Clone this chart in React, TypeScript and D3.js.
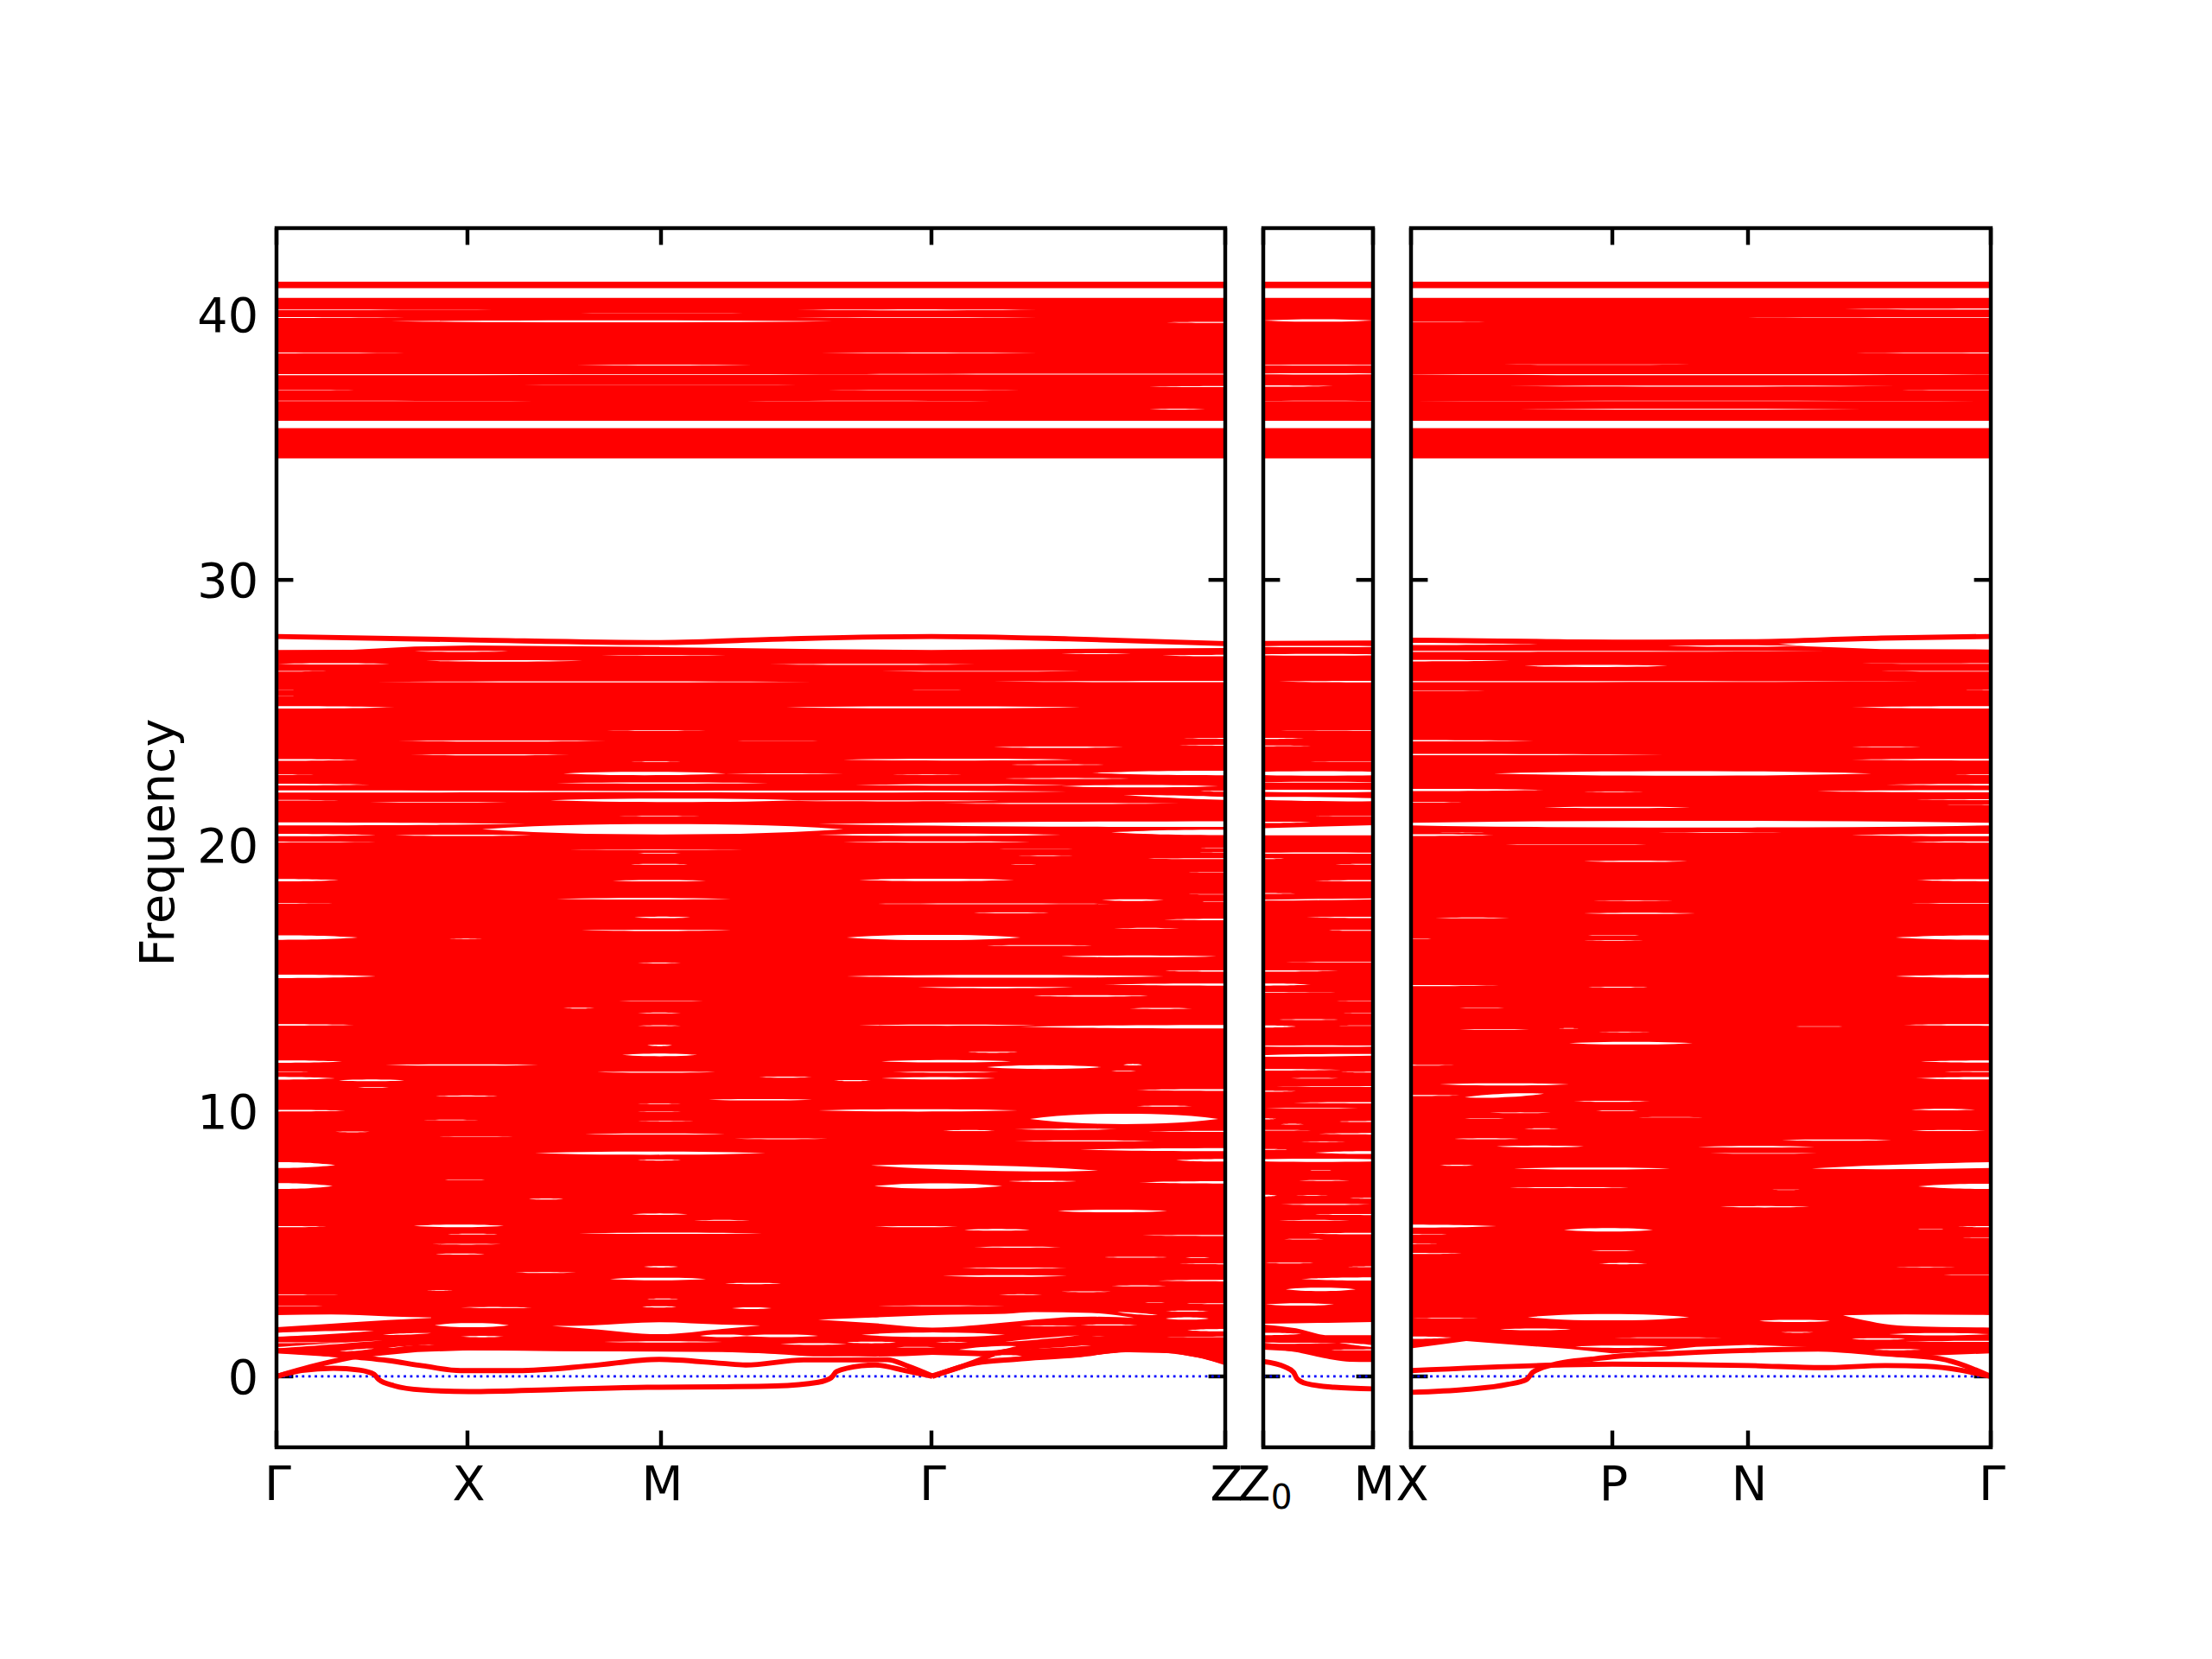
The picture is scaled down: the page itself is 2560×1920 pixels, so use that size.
import React from "react";
import * as d3 from "d3";

type Gap = number[]; // [kStart, kEnd, freq, gapWidth, optional freqEnd]
type Pt = number[];  // [k, freq]

const yTickValues = [0, 10, 20, 30, 40];
const frequencyLimits = [-2.67, 43.25];

const leftTicks = [[0, "Γ"], [2.21, "X"], [4.45, "M"], [7.58, "Γ"], [10.98, "Z"]];
const midTicks = [[0, "Z0"], [1.27, "M"]];
const rightTicks = [[0, "X"], [2.33, "P"], [3.9, "N"], [6.71, "Γ"]];

const upperBands = [[34.58, 35.72], [35.99, 40.62], [40.99, 41.23]];

/* ---------- left panel: Γ X M Γ Z ---------- */
const leftOuterTop: Pt[] = [[0, 27.36], [0.88, 27.37], [1.6, 27.49], [2.25, 27.53], [4.45, 27.47], [6.29, 27.39], [7.58, 27.36], [9.17, 27.4], [10.98, 27.43]];
const leftOuterBottom: Pt[] = [[0, 0.87], [0.79, 0.71], [0.96, 0.71], [1.29, 0.81], [1.63, 0.92], [2.23, 0.98], [3.29, 0.97], [5.16, 0.94], [5.77, 0.86], [6.27, 0.78], [6.93, 0.75], [7.27, 0.76], [7.59, 0.81], [8.26, 0.75], [8.63, 0.65], [9.27, 0.73], [9.77, 0.92], [10.3, 0.88], [10.41, 0.86], [10.73, 0.67], [10.98, 0.45]];
const leftTopLine: Pt[] = [[0, 27.87], [2.25, 27.74], [4.45, 27.64], [5.91, 27.78], [7.58, 27.87], [9.17, 27.78], [10.98, 27.6]];
const leftSoftMode: Pt[] = [[0, 0], [0.29, 0.22], [0.66, 0.31], [0.96, 0.24], [1.13, 0.08], [1.18, -0.11], [1.36, -0.35], [1.69, -0.51], [2.23, -0.57], [3.29, -0.49], [4.29, -0.41], [5.16, -0.39], [5.77, -0.36], [6.27, -0.22], [6.42, -0.05], [6.48, 0.18], [6.77, 0.4], [6.93, 0.43], [7.27, 0.22], [7.59, 0]];
const leftBandB: Pt[] = [[0, 0], [0.39, 0.36], [0.86, 0.71], [1.29, 0.94], [1.63, 1.08], [2.23, 1.08], [3.29, 1.05], [5.16, 1.01], [5.77, 0.94], [6.27, 0.85], [6.93, 0.89], [7.59, 0.94], [8.27, 0.86], [8.63, 1.08], [9.27, 1.25], [9.83, 1.52], [10.3, 1.46]];
const leftBandC: Pt[] = [[0, 0.97], [0.46, 0.89], [0.89, 0.74], [1.29, 0.6], [1.69, 0.4], [2.13, 0.22], [2.79, 0.22], [3.63, 0.4], [4.43, 0.64], [5.16, 0.49], [5.43, 0.43], [6.1, 0.62], [6.6, 0.62], [7.07, 0.63], [7.3, 0.4], [7.59, 0.02]];
const leftBandD: Pt[] = [[7.59, 0], [8.1, 0.51], [8.57, 0.65], [9.27, 0.81], [9.77, 1.0], [10.1, 1.03], [10.41, 0.94], [10.73, 0.76], [10.98, 0.52]];
const leftBandE: Pt[] = [[7.59, 0.02], [8.0, 0.45], [8.3, 0.85]];

const leftWhiteWedge = { k: [0, 0.63, 1.29, 1.79], top: [2.31, 2.33, 2.26, 2.22], bottom: [1.85, 1.98, 2.12, 2.2] };
const leftWhiteAtM = { k: [3.19, 3.63, 4.43, 5.16, 5.6], top: [1.9, 1.92, 2.04, 1.95, 1.92], bottom: [1.9, 1.79, 1.59, 1.79, 1.92] };
const leftWhiteAtGamma = { k: [6.27, 6.9, 7.59, 8.43, 8.77, 9.43, 9.93], top: [2.14, 2.22, 2.31, 2.36, 2.42, 2.39, 2.2], bottom: [2.14, 2.01, 1.84, 2.03, 2.14, 2.25, 2.2] };

const leftUpperGaps: Gap[] = [
  [0, 2.5, 40.17, 0.02], [6.02, 8.8, 40.17, 0.035], [3.52, 5.4, 40.04, 0.012], [0, 1.48, 39.88, 0.03], [6, 8.8, 39.88, 0.025],
  [1.33, 6.43, 39.74, 0.07], [10.3, 10.98, 39.7, 0.045], [0, 1.48, 38.55, 0.03], [6.3, 8.8, 38.55, 0.03], [3.47, 5.5, 38.09, 0.03],
  [0, 8, 37.73, 0.035], [6.5, 10.98, 37.75, 0.04], [0, 0.97, 37.15, 0.02], [6.38, 8.6, 37.15, 0.02], [2.86, 6.02, 37.34, 0.012],
  [10.1, 10.98, 37.28, 0.04], [0, 3.78, 36.74, 0.012], [5.2, 8.5, 36.74, 0.012], [10.1, 10.75, 36.43, 0.03],
];
const leftGapsHigh: Gap[] = [
  [1.6, 2.68, 27.31, 0.04], [1.73, 3.54, 26.95, 0.055], [0.02, 1.31, 26.84, 0.05], [3.76, 5.2, 27.15, 0.025], [5.7, 8.09, 26.82, 0.04],
  [9.08, 9.89, 27.22, 0.03], [10.25, 10.98, 27.15, 0.055], [0, 0.58, 26.56, 0.025], [7, 9.3, 26.56, 0.03], [1.15, 6.2, 26.16, 0.04],
  [8.3, 10.98, 26.17, 0.05], [0, 0.22, 25.85, 0.012], [0, 0.22, 25.63, 0.012], [7.35, 7.93, 25.85, 0.012], [0, 1.37, 25.2, 0.09],
  [5.9, 9.3, 25.2, 0.08], [3.82, 4.97, 24.33, 0.02], [10.5, 10.98, 24.03, 0.03], [10.45, 10.98, 23.77, 0.03], [1.4, 3.82, 23.93, 0.04],
  [8.3, 9.8, 23.7, 0.05], [5.33, 6.27, 23.94, 0.012], [1.55, 3.39, 23.41, 0.04], [0, 0.94, 23.22, 0.065], [6.56, 9.22, 23.23, 0.065],
  [4.1, 4.68, 23.15, 0.02], [8.5, 9.58, 23.04, 0.03], [3.32, 5.2, 22.71, 0.13], [5.2, 6.56, 22.7, 0.03], [9.44, 10.98, 22.73, 0.17],
  [7.13, 7.93, 22.66, 0.02], [0, 0.43, 22.67, 0.02], [3.24, 5.69, 22.35, 0.05], [8.43, 9.87, 22.52, 0.04], [0, 1.08, 22.29, 0.065],
  [6.7, 9.15, 22.28, 0.055], [9.08, 10.9, 22.23, 0.09], [0, 5, 22.03, 0.08], [3.5, 9.15, 22.03, 0.075], [10.67, 10.98, 22.04, 0.03],
  [0, 0.72, 21.7, 0.025], [1.08, 2.67, 21.62, 0.03], [3.17, 6.05, 21.7, 0.13], [5.9, 8.36, 21.68, 0.04], [7.71, 10.45, 21.58, 0.04],
  [9.8, 10.98, 21.9, 0.12, 21.77], [3.96, 4.9, 21.1, 0.02], [0, 2.88, 20.81, 0.11], [2.38, 6.56, 20.61, 0.39], [6.27, 10.98, 20.8, 0.21],
  [9.66, 10.98, 20.49, 0.2], [0, 1.15, 20.39, 0.09], [1.37, 2.95, 20.38, 0.05], [6.27, 9.08, 20.4, 0.09], [0, 1.15, 20.13, 0.03],
  [6.56, 8.72, 20.13, 0.05], [3.39, 5.4, 19.84, 0.02], [4.18, 4.68, 19.7, 0.03], [8.36, 9.22, 19.87, 0.012], [10.67, 10.98, 19.89, 0.02],
  [8.58, 9.22, 19.61, 0.02], [10.02, 10.98, 19.5, 0.035], [10.6, 10.98, 19.73, 0.012], [4.1, 4.76, 19.29, 0.035], [8.43, 8.86, 19.29, 0.012],
  [10.52, 10.98, 18.99, 0.02], [0, 0.72, 18.69, 0.09], [3.89, 4.97, 18.67, 0.055], [6.74, 8.54, 18.7, 0.09], [3.24, 5.26, 17.99, 0.055],
  [9.55, 10.27, 17.94, 0.065], [10.52, 10.98, 18.16, 0.02], [10.67, 10.98, 17.89, 0.02], [0, 0.65, 17.82, 0.02], [6.85, 9.66, 17.8, 0.03],
  [8.07, 8.94, 17.46, 0.035], [4.14, 4.79, 17.29, 0.055], [10.27, 10.98, 17.21, 0.055], [3.53, 5.26, 16.8, 0.045], [9.69, 10.45, 16.88, 0.03],
  [0, 0.94, 16.53, 0.17], [2, 2.38, 16.48, 0.02], [6.6, 8.61, 16.53, 0.2], [8.22, 9.44, 16.23, 0.035],
];
const leftGapsMiddle: Gap[] = [
  [9.08, 10.88, 15.82, 0.065], [4.18, 4.68, 15.57, 0.03], [0, 1.15, 15.07, 0.13], [6.6, 10.27, 15.07, 0.11], [10.23, 10.98, 15.27, 0.045],
  [9.58, 10.98, 14.76, 0.08], [7.42, 9.22, 14.65, 0.055], [8.76, 10.09, 14.33, 0.055], [3.96, 4.94, 14.13, 0.02], [3.32, 3.68, 13.87, 0.03],
  [9.87, 10.6, 13.86, 0.04], [4.18, 4.68, 13.69, 0.03], [0, 0.9, 13.24, 0.055], [6.74, 8.79, 13.23, 0.045], [8.6, 10.98, 13.17, 0.13],
  [4.18, 4.68, 13.21, 0.03], [4.29, 4.58, 12.47, 0.055], [4, 4.87, 12.11, 0.1], [8, 8.58, 12.21, 0.04], [0, 0.76, 11.86, 0.09],
  [7, 8.5, 11.87, 0.09], [8.22, 9.55, 11.65, 0.14], [9.8, 10.02, 11.74, 0.055], [1.26, 3.03, 11.73, 0.055], [0, 0.4, 11.48, 0.02],
  [3.71, 5.08, 11.46, 0.045], [7.13, 8.36, 11.46, 0.04], [9.66, 9.95, 11.5, 0.03], [0, 0.68, 11.23, 0.1], [7, 8.32, 11.23, 0.085],
  [0.72, 1.48, 11.15, 0.065], [5.58, 6.2, 11.27, 0.04], [6.45, 6.88, 11.14, 0.04], [0.94, 1.3, 10.88, 0.03], [1.84, 2.56, 10.56, 0.04],
  [9.95, 10.98, 10.79, 0.065], [5, 6.2, 10.42, 0.055], [0, 0.8, 10.01, 0.065], [6.27, 8.58, 10.02, 0.085], [4.18, 4.68, 10.27, 0.02],
  [4.18, 4.68, 9.98, 0.02], [4.18, 4.83, 9.61, 0.02], [1.7, 2.34, 9.66, 0.02], [8.72, 10.9, 9.7, 0.39], [9.95, 10.6, 10.18, 0.04],
  [0.68, 1.08, 9.21, 0.03], [3.57, 5.19, 9.13, 0.045], [7.71, 8.32, 9.26, 0.04], [8.54, 9.73, 9.31, 0.05], [10.09, 10.98, 9.23, 0.04],
  [1.87, 2.74, 9.02, 0.02], [5.3, 6.38, 8.95, 0.03], [8.54, 10.16, 8.87, 0.04], [2.99, 5.66, 8.41, 0.12], [4.18, 4.68, 8.15, 0.04],
  [9.3, 10.98, 8.54, 0.11], [0, 0.68, 7.96, 0.22], [6.88, 9.51, 7.95, 0.2, 7.75], [10.41, 10.98, 8.14, 0.1], [0, 0.65, 7.17, 0.22],
  [6.92, 8.4, 7.17, 0.2], [8.47, 9.26, 7.35, 0.055], [9.98, 10.98, 7.31, 0.085], [1.91, 2.45, 7.41, 0.02], [2.92, 3.32, 6.68, 0.04],
  [4.11, 4.76, 6.11, 0.055], [9.04, 10.31, 6.23, 0.1], [4.83, 5.48, 5.88, 0.03], [1.59, 2.63, 5.67, 0.1], [0, 0.58, 5.64, 0.045],
  [6.92, 7.89, 5.64, 0.045], [7.96, 8.72, 5.52, 0.065], [3.5, 5.62, 5.39, 0.05], [1.98, 2.56, 5.36, 0.03], [10.02, 10.98, 5.31, 0.04],
  [1.8, 2.6, 4.98, 0.03], [1.84, 2.41, 4.61, 0.04], [8.07, 9.08, 4.87, 0.04], [4.25, 4.65, 4.13, 0.055], [7.93, 9.15, 4.08, 0.04],
  [9.58, 10.31, 4.49, 0.04], [10.52, 10.8, 4.47, 0.03], [10.45, 10.98, 4.24, 0.03], [3.86, 4.97, 3.67, 0.1], [7.71, 9.15, 3.78, 0.065],
  [2.81, 3.32, 3.92, 0.02], [10.2, 10.98, 3.61, 0.055], [5.19, 5.84, 3.5, 0.05], [9.66, 10.3, 3.41, 0.04], [8.36, 8.86, 3.08, 0.03],
  [9.08, 9.66, 3.19, 0.03], [2.76, 3.47, 3.91, 0.03], [0, 0.72, 3.07, 0.02], [4.29, 4.65, 2.92, 0.03], [1.74, 2.04, 3.24, 0.02],
];
const leftGapsLow: Gap[] = [
  [1.83, 2.69, 1.93, 0.16], [0, 1.13, 1.57, 0.15, 1.72], [1.23, 1.79, 1.57, 0.05, 1.63], [0, 0.8, 1.27, 0.03], [0, 1.23, 1.08, 0.05, 1.36],
  [1.29, 1.83, 1.08, 0.04, 1.19], [0.73, 1.13, 0.94, 0.05, 1.05], [2.13, 2.63, 1.5, 0.05], [3.79, 5.16, 1.3, 0.045], [4.9, 5.45, 1.53, 0.1],
  [5.4, 6.27, 1.53, 0.1], [5.83, 6.6, 1.22, 0.065], [6.6, 7.17, 1.28, 0.065], [6.77, 8.43, 1.57, 0.17], [7.17, 7.63, 1.1, 0.03],
  [7.63, 8, 1.29, 0.03], [7.8, 8.63, 0.95, 0.15, 1.13], [8.27, 8.63, 0.76, 0.09], [8.63, 9.43, 1.03, 0.04, 1.17], [8.43, 9.3, 1.3, 0.045, 1.55],
  [8.6, 9.27, 1.9, 0.03], [9.3, 9.97, 1.94, 0.04], [9.73, 10.2, 2.42, 0.055, 2.31], [9.43, 10.3, 1.5, 0.02], [10.03, 10.3, 2.79, 0.015],
  [10.29, 10.79, 2.46, 0.04], [10.29, 10.79, 2.18, 0.09], [10.54, 10.98, 1.74, 0.09], [10.5, 10.98, 2.74, 0.03], [10.3, 10.98, 1.49, 0.02],
  [2.13, 2.89, 2.6, 0.03], [4.23, 4.63, 2.62, 0.05], [0, 0.63, 2.66, 0.02], [5.27, 5.73, 2.57, 0.065], [6.93, 8.43, 2.66, 0.03],
  [2.25, 2.96, 2.59, 0.03],
];

/* ---------- middle panel: Z0 M ---------- */
const midOuterTop: Pt[] = [[0, 27.7], [1.27, 27.72]];
const midOuterBottom: Pt[] = [[0, 1.01], [0.38, 0.94], [0.75, 0.76], [1, 0.65], [1.27, 0.56]];
const midSoftMode: Pt[] = [[0, 0.56], [0.25, 0.36], [0.35, 0.16], [0.39, -0.08], [0.5, -0.27], [0.82, -0.41], [1.27, -0.47]];
const midLowBand: Pt[] = [[0, 1.17], [0.38, 1.01], [0.75, 0.76], [1, 0.65], [1.27, 0.64]];
const midWhiteWedge = { k: [0, 0.38, 0.75, 1.27], top: [1.98, 2.0, 2.02, 2.05], bottom: [1.95, 1.81, 1.55, 1.55] };
const midUpperGaps: Gap[] = [
  [0, 1.27, 39.77, 0.09], [-0.4, 1.7, 38.09, 0.03], [-0.4, 1.7, 37.76, 0.05], [0, 0.81, 37.3, 0.05], [-0.4, 1.7, 36.74, 0.012],
];
const midGapsHigh: Gap[] = [
  [-0.4, 1.7, 27.49, 0.05], [-0.3, 1.6, 27.18, 0.065], [0.18, 1.27, 26.17, 0.055], [0.2, 1.27, 24.32, 0.02], [0, 0.47, 24.03, 0.04],
  [0, 0.55, 23.75, 0.03], [0.49, 1.27, 23.16, 0.02], [-0.5, 1.8, 22.71, 0.17], [-0.4, 1.7, 22.38, 0.03], [-0.5, 1.8, 22.05, 0.1],
  [-0.5, 1.8, 21.79, 0.15, 21.7], [0.55, 1.27, 21.11, 0.02], [0, 0.55, 20.87, 0.05], [-0.4, 1.7, 19.71, 0.05], [0, 0.26, 19.5, 0.03],
  [0.8, 1.27, 19.29, 0.03], [0.6, 1.27, 18.67, 0.05], [0, 0.4, 18.19, 0.03], [-0.4, 1.7, 17.92, 0.05, 18], [0.5, 1.27, 17.29, 0.05],
  [0.72, 1.27, 16.8, 0.04], [0.26, 1.27, 15.6, 0.03], [0, 0.87, 15.27, 0.05], [0, 0.55, 14.76, 0.08], [0, 0.84, 14.47, 0.02],
  [0.78, 1.27, 14.14, 0.015], [0.9, 1.27, 13.69, 0.02], [0.18, 0.87, 13.44, 0.03], [0, 0.38, 13.18, 0.08], [0.84, 1.27, 13.21, 0.02],
  [-0.4, 1.7, 12.44, 0.055], [-0.4, 1.7, 12.06, 0.09, 12.13], [0, 0.9, 11.55, 0.06], [0.9, 1.27, 11.46, 0.03], [0.32, 0.87, 11.23, 0.03],
  [0.15, 1.27, 10.92, 0.03], [0, 0.38, 10.74, 0.04], [0.35, 1.27, 10.31, 0.05], [0.03, 1.1, 10.1, 0.03], [0, 0.15, 9.7, 0.04],
  [0.85, 1.27, 9.6, 0.04], [0.2, 0.47, 9.5, 0.03], [0, 0.55, 9.27, 0.03], [0.64, 1.27, 9.14, 0.05], [0.44, 0.95, 8.84, 0.02],
  [0, 0.3, 8.55, 0.03], [0.6, 1.27, 8.43, 0.11], [-0.4, 1.7, 8.14, 0.12], [0.52, 0.81, 7.76, 0.02], [0.41, 1, 7.38, 0.03],
  [0, 0.16, 6.81, 0.065], [0.38, 0.75, 6.82, 0.02], [0.98, 1.27, 6.71, 0.03], [0.2, 1.24, 6.48, 0.04], [0.55, 1.27, 6.1, 0.04],
  [0.18, 1, 5.88, 0.03], [0.52, 1.27, 5.38, 0.06], [0.24, 0.7, 5.17, 0.03], [0.03, 0.58, 4.27, 0.03], [0.98, 1.27, 4.13, 0.03],
  [0.44, 1.27, 3.67, 0.12], [0.26, 1.07, 3.28, 0.13], [0.03, 0.82, 2.71, 0.09], [0, 0.44, 1.6, 0.09], [0, 0.85, 1.25, 0.045],
  [0.88, 1.27, 1.27, 0.08, 1.14], [0.75, 1.27, 1.0, 0.04],
];
const midWhiteAt20 = { k: [0, 1.27], top: [20.65, 20.76], bottom: [20.38, 20.38] };

/* ---------- right panel: X P N Γ ---------- */
const rightOuterTop: Pt[] = [[0, 27.81], [2.33, 27.74], [3.9, 27.7], [4.58, 27.5], [5.44, 27.39], [6.71, 27.38]];
const rightOuterBottom: Pt[] = [[0, 1.06], [0.64, 1.33], [1.27, 1.17], [1.85, 1.03], [2.33, 0.87], [2.82, 0.95], [3.3, 1.11], [3.9, 1.19], [4.52, 1.11], [5, 1.06], [5.49, 0.92], [5.97, 0.78], [6.71, 0.87]];
const rightTopLine: Pt[] = [[0, 27.73], [1.42, 27.68], [2.33, 27.65], [3.9, 27.67], [5.44, 27.81], [6.71, 27.87]];
const rightSoftMode: Pt[] = [[0, -0.6], [0.64, -0.49], [1.12, -0.3], [1.34, -0.11], [1.41, 0.16], [1.71, 0.49], [2.09, 0.65], [2.33, 0.74], [3.06, 0.87], [3.9, 0.98], [4.71, 1.03], [5.49, 0.85], [6.12, 0.67], [6.71, 0]];
const rightAcoustic: Pt[] = [[0, 0.22], [1.71, 0.43], [2.33, 0.46], [3.9, 0.41], [4.76, 0.33], [5.49, 0.41], [5.97, 0.38], [6.71, 0]];
const rightWhiteWedge = { k: [5, 5.72, 6.71], top: [2.3, 2.33, 2.31], bottom: [2.3, 1.9, 1.84] };
const rightUpperGaps: Gap[] = [
  [5.02, 6.71, 40.2, 0.04], [3.68, 6.71, 39.88, 0.025], [0, 1, 39.72, 0.015], [5.15, 6.71, 38.55, 0.03], [1.07, 3.23, 38.11, 0.02],
  [-0.5, 7.2, 37.73, 0.04], [1.13, 5.6, 37.3, 0.04], [5.6, 6.71, 37.15, 0.02], [-0.5, 7.2, 36.74, 0.012], [1.26, 5.21, 36.43, 0.035],
];
const rightGapsHigh: Gap[] = [
  [0, 1.48, 27.59, 0.085], [2.97, 4.58, 27.51, 0.055], [0, 4.8, 27.31, 0.04], [0, 1.14, 26.96, 0.055], [1.31, 2.97, 26.76, 0.08],
  [5.1, 6.71, 26.85, 0.02], [5.44, 6.71, 26.56, 0.03], [0, 5.9, 26.17, 0.04], [0, 1.2, 25.83, 0.012], [6.42, 6.71, 25.85, 0.015],
  [5.1, 6.71, 25.2, 0.09], [0, 1.42, 23.94, 0.05], [5.1, 5.9, 23.71, 0.025], [0, 2.92, 23.42, 0.05], [5.1, 6.71, 23.23, 0.065],
  [0.96, 5.33, 22.71, 0.17], [6.3, 6.71, 22.67, 0.025], [5.5, 6.71, 22.29, 0.055], [0, 1.54, 22.09, 0.085], [4.7, 6.71, 22.04, 0.085],
  [2, 2.69, 22.01, 0.02], [0, 0.59, 21.62, 0.03], [1.54, 3.23, 21.43, 0.055], [5.85, 6.71, 21.72, 0.03], [6.2, 6.71, 21.53, 0.015],
  [-0.8, 7.5, 20.8, 0.25], [0, 0.96, 20.39, 0.065], [5.1, 6.71, 20.39, 0.09], [5.78, 6.71, 20.13, 0.05], [0.96, 2.86, 20.03, 0.02],
  [0.33, 0.85, 20.49, 0.015], [2.86, 4.29, 20.49, 0.02], [2, 3.2, 19.4, 0.05], [5.85, 6.71, 18.69, 0.08], [2.11, 3.03, 17.92, 0.02],
  [2, 3.29, 17.44, 0.05], [0.28, 1.14, 17.27, 0.03], [5.79, 6.71, 17.82, 0.03], [2, 2.69, 16.62, 0.02], [2, 2.69, 16.42, 0.02],
  [5.61, 6.71, 16.53, 0.17], [0, 0.3, 16.49, 0.015],
];
const rightGapsLow: Gap[] = [
  [5.61, 6.71, 15.07, 0.12], [0, 1.02, 14.72, 0.04], [2.05, 2.74, 14.66, 0.03], [0.56, 1.08, 13.88, 0.02], [5.7, 6.71, 13.24, 0.065],
  [0.56, 1.37, 13.07, 0.03], [4.41, 5.04, 13.18, 0.02], [1.71, 1.94, 13.11, 0.02], [2.17, 2.77, 12.97, 0.02], [1.83, 3.26, 12.55, 0.1],
  [0, 0.5, 11.72, 0.03], [5.9, 6.71, 11.86, 0.08], [6.13, 6.71, 11.48, 0.03], [5.84, 6.71, 11.23, 0.09], [0.33, 1.83, 11, 0.085],
  [0.62, 1.54, 10.51, 0.13, 10.65], [0, 0.56, 10.58, 0.04], [1.88, 2.77, 10.36, 0.04], [2.14, 2.63, 10.01, 0.03], [0.91, 1.62, 9.93, 0.03],
  [5.79, 6.53, 10.05, 0.055], [0.62, 1.08, 9.72, 0.02], [2.63, 3.38, 9.76, 0.02], [1.31, 1.71, 9.33, 0.03], [5.79, 6.65, 9.26, 0.04],
  [0.5, 1.25, 8.95, 0.04], [4.29, 5.56, 8.9, 0.055], [0.99, 2, 8.66, 0.065], [3.32, 4.67, 8.65, 0.055], [3.46, 4.7, 8.4, 0.03],
  [4.64, 6.71, 7.83, 0.22, 7.96], [1.19, 3, 7.83, 0.08], [0.33, 0.73, 7.95, 0.04], [1.14, 2.52, 7.11, 0.04], [5.87, 6.71, 7.16, 0.2],
  [4.18, 4.5, 7.03, 0.02], [3.58, 4.61, 6.39, 0.05], [0, 0.99, 5.66, 0.11], [1.77, 2.8, 5.52, 0.13], [6.33, 6.71, 5.64, 0.04],
  [0, 0.45, 5.36, 0.025], [6.36, 6.71, 5.22, 0.02], [5.84, 6.19, 5.54, 0.02], [0, 0.33, 5, 0.02], [0, 0.59, 4.63, 0.04],
  [2.08, 2.6, 4.73, 0.03], [2.17, 2.74, 4.25, 0.05], [5.61, 6.3, 4.11, 0.02], [6.07, 6.71, 3.83, 0.02],
  [1.35, 3.22, 2.23, 0.24], [4.03, 4.85, 2.09, 0.085], [1.03, 1.85, 1.77, 0.065], [0.02, 0.78, 2.2, 0.02], [0, 0.47, 1.46, 0.09],
  [1.9, 2.97, 1.12, 0.09], [2.35, 3.6, 1.46, 0.025], [5.1, 5.72, 1.41, 0.06], [4.28, 4.66, 1.66, 0.03], [5.35, 5.9, 1.01, 0.05],
  [5.53, 6.69, 1.59, 0.09], [5.72, 6.71, 1.32, 0.04],
];

/* ---------- drawing ---------- */
const spineTop = 264, spineBottom = 1675;
const y = d3.scaleLinear().domain(frequencyLimits).range([spineBottom, spineTop]);
const RED = "#ff0000";

const lineWidth = 5.9;
const axisWidth = 4.44;
const tickLength = 19.4;
const fontSize = 55.56;

function gapPath(g: Gap, xs: d3.ScaleLinear<number, number>, kMax: number): string {
  const [k0, k1, f0, w, f1 = f0] = g;
  const area = d3.area<number>()
    .x((t) => xs(k0 + (k1 - k0) * t))
    .y0((t) => y(f0 + (f1 - f0) * t - halfWidth(t)))
    .y1((t) => y(f0 + (f1 - f0) * t + halfWidth(t)));
  function halfWidth(t: number) {
    const fromLeft = k0 <= 0 && k1 < kMax;
    const fromRight = k1 >= kMax && k0 > 0;
    const shape = fromLeft ? 1 - Math.pow(t, 2.4) : fromRight ? 1 - Math.pow(1 - t, 2.4) : 1 - Math.pow(Math.abs(2 * t - 1), 2.4);
    return (w / 2) * shape;
  }
  return area(d3.range(0, 1.0001, 1 / 14)) || "";
}

function Panel({ id, left, right, kMax, ticks, lines, outerTop, outerBottom, gaps, whiteAreas }: any) {
  const xs = d3.scaleLinear().domain([0, kMax]).range([left, right]);
  const curve = d3.line<Pt>().x((d) => xs(d[0])).y((d) => y(d[1])).curve(d3.curveMonotoneX);
  const poly = d3.line<Pt>().x((d) => xs(d[0])).y((d) => y(d[1]));
  const outer = poly([...outerTop, ...[...outerBottom].reverse()]) + "Z";
  const wArea = (a: any) =>
    d3.area<number>().x((i) => xs(a.k[i])).y0((i) => y(a.bottom[i])).y1((i) => y(a.top[i])).curve(d3.curveMonotoneX)(a.k.map((_: number, i: number) => i)) || "";
  return (
    <g>
      <clipPath id={id}><rect x={left} y={spineTop} width={right - left} height={spineBottom - spineTop} /></clipPath>
      {/* ticks under the bands */}
      {ticks.map(([k]: any, i: number) => (
        <g key={i} stroke="#000" strokeWidth={axisWidth}>
          <line x1={xs(k)} x2={xs(k)} y1={spineBottom} y2={spineBottom - tickLength} />
          <line x1={xs(k)} x2={xs(k)} y1={spineTop} y2={spineTop + tickLength} />
        </g>
      ))}
      {yTickValues.map((v) => (
        <g key={v} stroke="#000" strokeWidth={axisWidth}>
          <line x1={left} x2={left + tickLength} y1={y(v)} y2={y(v)} />
          <line x1={right} x2={right - tickLength} y1={y(v)} y2={y(v)} />
        </g>
      ))}
      <line x1={left} x2={right} y1={y(0)} y2={y(0)} stroke="#0000ff" strokeWidth={2.78} strokeDasharray="2.78 4.58" />
      <g clipPath={`url(#${id})`}>
        {upperBands.map((b, i) => (
          <path key={i} fill={RED} d={poly([[0, b[1]], [kMax, b[1]], [kMax, b[0]], [0, b[0]]]) + "Z"} />
        ))}
        <path fill={RED} d={outer} />
        {gaps.map((g: Gap, i: number) => <path key={i} fill="#fff" d={gapPath(g, xs, kMax)} />)}
        {whiteAreas.map((a: any, i: number) => <path key={i} fill="#fff" d={wArea(a)} />)}
        {lines.map((l: Pt[], i: number) => (
          <path key={i} fill="none" stroke={RED} strokeWidth={lineWidth} d={curve(l) || ""} />
        ))}
      </g>
      <rect x={left} y={spineTop} width={right - left} height={spineBottom - spineTop} fill="none" stroke="#000" strokeWidth={axisWidth} />
      {ticks.map(([k, label]: any, i: number) =>
        label === "Z0" ? (
          <text key={i} x={xs(k) + 2} y={1736} textAnchor="middle" fontSize={fontSize}>
            Z<tspan fontSize={fontSize * 0.7} dy={10}>0</tspan>
          </text>
        ) : (
          <text key={i} x={xs(k) + 1.5} y={1736} textAnchor="middle" fontSize={fontSize}>{label}</text>
        )
      )}
    </g>
  );
}

export default function App() {
  return (
    <svg width={2560} height={1920} viewBox="0 0 2560 1920" style={{ position: "absolute", left: 0, top: 0, background: "#fff" }} fontFamily="'DejaVu Sans'">
      <Panel
        id="clipLeft" left={320} right={1418} kMax={10.98} ticks={leftTicks}
        outerTop={leftOuterTop} outerBottom={leftOuterBottom}
        gaps={[...leftUpperGaps, ...leftGapsHigh, ...leftGapsMiddle, ...leftGapsLow]}
        whiteAreas={[leftWhiteWedge, leftWhiteAtM, leftWhiteAtGamma]}
        lines={[leftTopLine, leftSoftMode, leftBandB, leftBandC, leftBandD, leftBandE]}
      />
      <Panel
        id="clipMid" left={1462} right={1589} kMax={1.27} ticks={midTicks}
        outerTop={midOuterTop} outerBottom={midOuterBottom}
        gaps={[...midUpperGaps, ...midGapsHigh]}
        whiteAreas={[midWhiteWedge, midWhiteAt20]}
        lines={[midSoftMode, midLowBand]}
      />
      <Panel
        id="clipRight" left={1633} right={2304} kMax={6.71} ticks={rightTicks}
        outerTop={rightOuterTop} outerBottom={rightOuterBottom}
        gaps={[...rightUpperGaps, ...rightGapsHigh, ...rightGapsLow]}
        whiteAreas={[rightWhiteWedge]}
        lines={[rightTopLine, rightSoftMode, rightAcoustic]}
      />
      {yTickValues.map((v) => (
        <text key={v} x={299} y={y(v) + 20} textAnchor="end" fontSize={fontSize}>{v}</text>
      ))}
      <text transform="translate(181,975) rotate(-90)" textAnchor="middle" dominantBaseline="central" fontSize={fontSize}>Frequency</text>
    </svg>
  );
}
